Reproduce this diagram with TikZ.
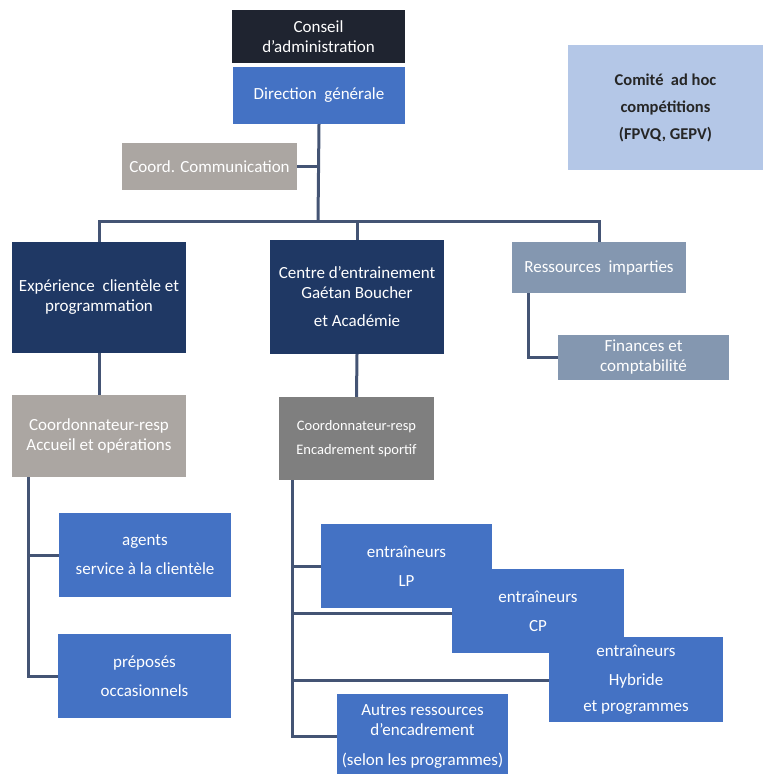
\documentclass[tikz,border=0pt]{standalone}
\usepackage{fontspec}
\setmainfont{Carlito}
\usepackage{tikz}
\definecolor{conseilc}{RGB}{31,36,48}
\definecolor{bleu}{RGB}{68,114,196}
\definecolor{marine}{RGB}{31,56,100}
\definecolor{ardoise}{RGB}{132,151,176}
\definecolor{taupe}{RGB}{171,166,162}
\definecolor{grisf}{RGB}{127,127,127}
\definecolor{ciel}{RGB}{180,199,231}
\definecolor{trait}{RGB}{68,84,116}
\tikzset{>=stealth}
\tikzset{box/.style={inner sep=0pt, align=center, text=white, font=\fontsize{17}{20}\selectfont}}
\tikzset{link/.style={draw=trait, line width=3pt}}

\begin{document}
\begin{tikzpicture}[x=1pt, y=-1pt]
    \useasboundingbox (0,0) rectangle (765,774);
    \coordinate (T1) at (28,477);
    \coordinate (T2) at (292,480);
    \coordinate (Bus) at (318,221);

    \node (conseil) at (318.5,36.5) [box, fill=conseilc, minimum width=173, minimum height=53] {Conseil\\d'administration};
    \node (direction) at (319,95.5) [box, fill=bleu, minimum width=172, minimum height=57] {Direction \ générale};
    \node (comite) at (665.5,107.5) [box, fill=ciel, minimum width=195, minimum height=125, text={black!85}, font=\fontsize{16.5}{27}\selectfont\bfseries] {Comité \ ad hoc\\compétitions\\(FPVQ, GEPV)};
    \node (coordcomm) at (209.5,166.5) [box, fill=taupe, minimum width=175, minimum height=47] {Coord. Communication};

    \node (experience) at (99,297.5) [box, fill=marine, minimum width=174, minimum height=111] {Expérience \ clientèle et\\programmation};
    \node (centre) at (357,297) [box, fill=marine, minimum width=174, minimum height=114] {Centre d'entrainement\\Gaétan Boucher\\[8pt]et Académie};
    \node (ressources) at (599,267.5) [box, fill=ardoise, minimum width=174, minimum height=51] {Ressources \ imparties};
    \node (finances) at (643.5,357.5) [box, fill=ardoise, minimum width=171, minimum height=45] {Finances et\\comptabilité};

    \node (accueil) at (99,436) [box, fill=taupe, minimum width=174, minimum height=82] {Coordonnateur-resp\\Accueil et opérations};
    \node (encadrement) at (356.5,438.5) [box, fill=grisf, minimum width=155, minimum height=83, font=\fontsize{14.5}{24}\selectfont] {Coordonnateur-resp\\Encadrement sportif};

    % liens
    \draw [link] (direction.south) -- (Bus);
    \draw [link] (coordcomm.east) -- (coordcomm.east -| Bus);
    \draw [link] (experience.north) |- (Bus) -| (ressources.north);
    \draw [link] (Bus) -| (centre.north);
    \draw [link] ([xshift=-71pt]ressources.south) |- (finances.west);
    \draw [link] (experience.south) -- (accueil.north);
    \draw [link] (centre.south) -- (encadrement.north);

    \node (agents) at (145,555) [box, fill=bleu, minimum width=172, minimum height=84] {agents\\[9pt]service à la clientèle};
    \node (preposes) at (144.5,676) [box, fill=bleu, minimum width=173, minimum height=84] {préposés\\[9pt]occasionnels};
    \draw [link] (T1) |- (agents.west);
    \draw [link] (T1) |- (preposes.west);

    \draw [link] (T2) |- (321,566);
    \draw [link] (T2) |- (452,613);
    \draw [link] (T2) |- (549,680);
    \draw [link] (T2) |- (337,736);
    \node (lp) at (406.5,566) [box, fill=bleu, minimum width=171, minimum height=84] {entraîneurs\\[9pt]LP};
    \node (cp) at (538,611) [box, fill=bleu, minimum width=172, minimum height=84] {entraîneurs\\[9pt]CP};
    \node (hybride) at (636,679.5) [box, fill=bleu, minimum width=174, minimum height=85] {entraîneurs\\[9pt]Hybride\\[6pt]et programmes};
    \node (autres) at (422.5,736) [box, fill=bleu, minimum width=171, minimum height=84] {Autres ressources\\d'encadrement\\[10pt](selon les programmes)};
\end{tikzpicture}
\end{document}
